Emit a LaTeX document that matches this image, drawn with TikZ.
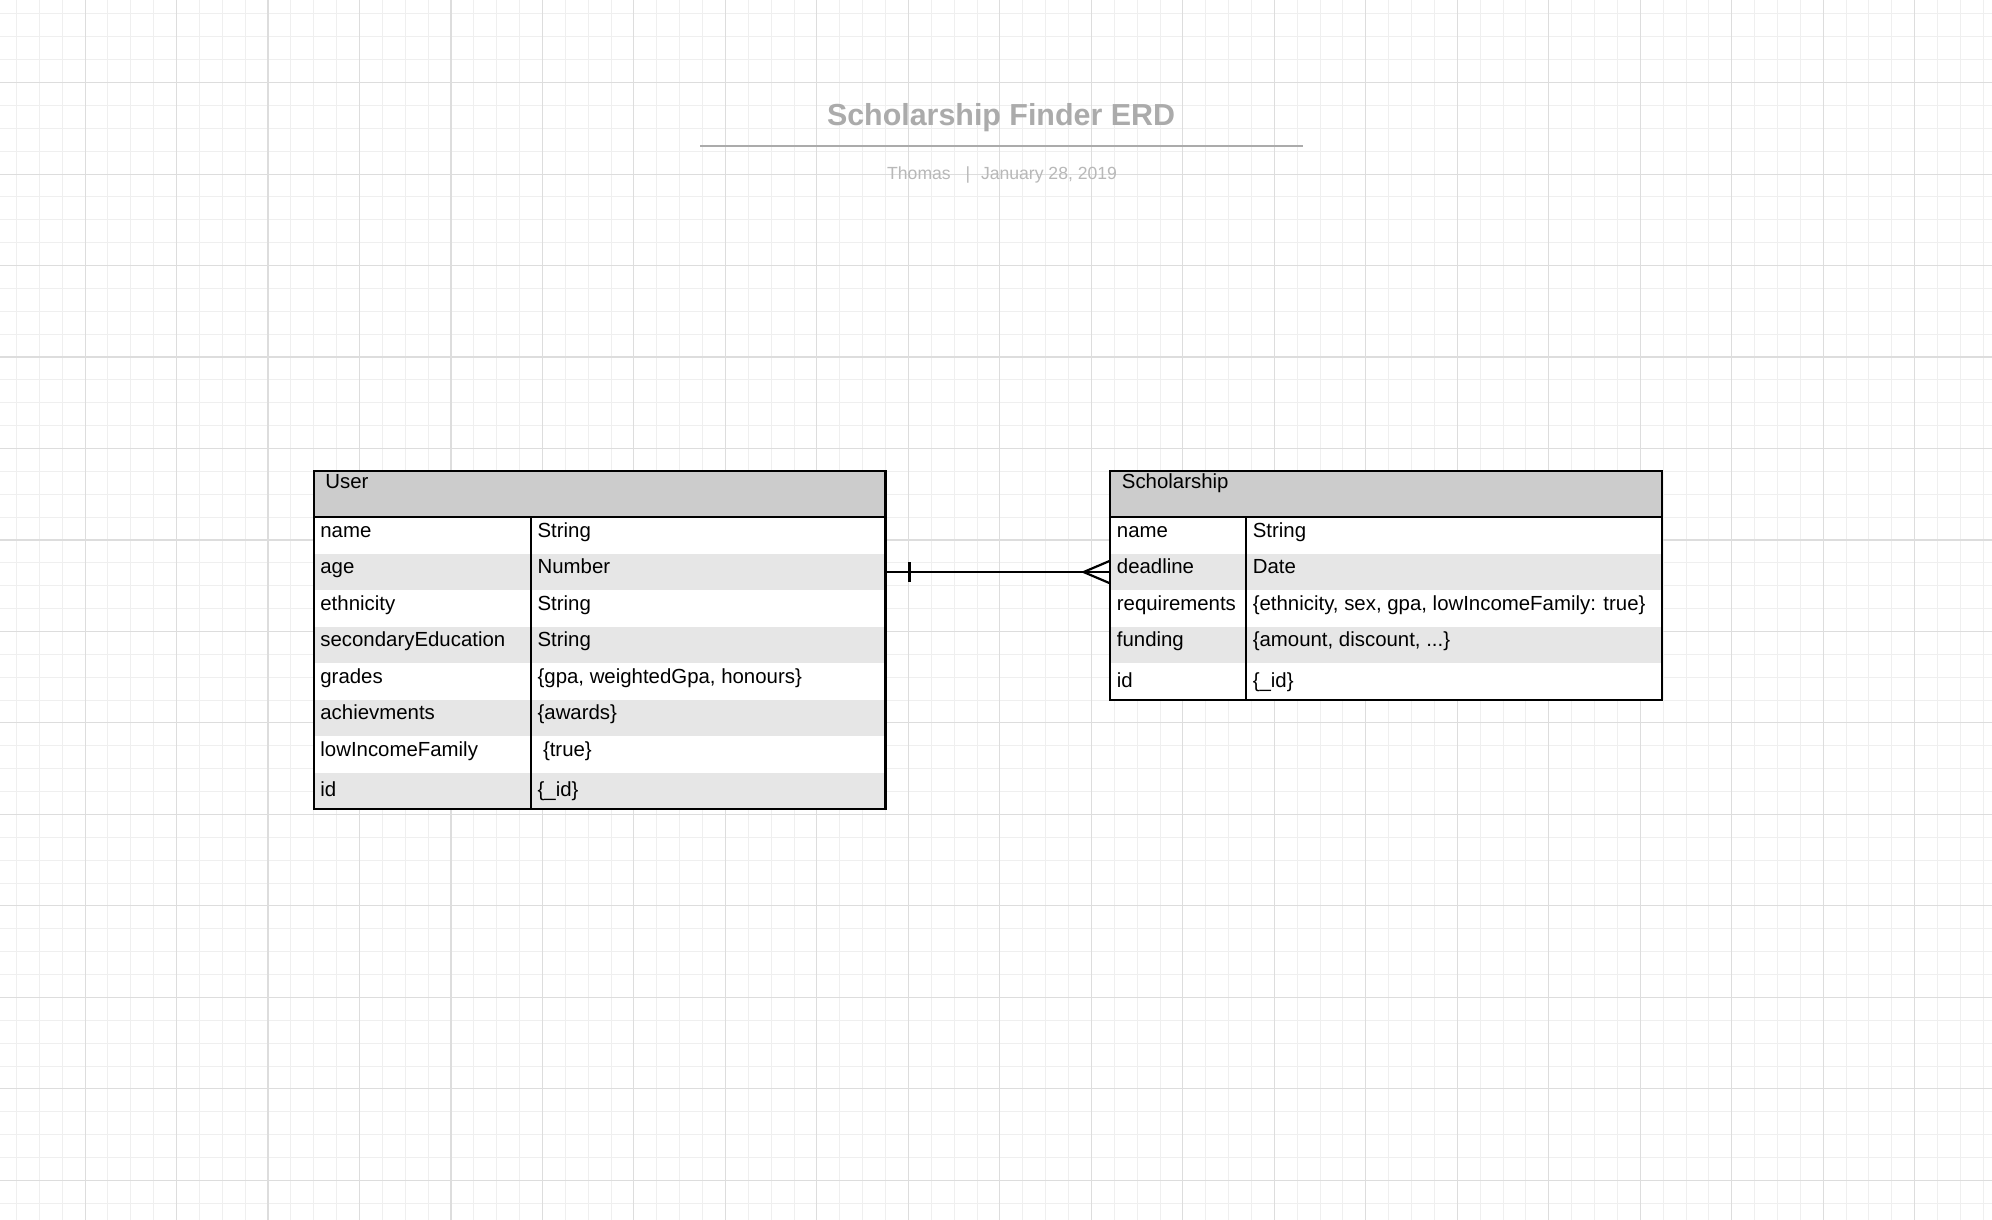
\documentclass[tikz,border=0pt]{standalone}
\usepackage{fontspec}
\setmainfont{Liberation Sans}
\usetikzlibrary{calc}
\usetikzlibrary{positioning}

\definecolor{gridminor}{HTML}{EFEFEF}
\definecolor{gridmajor}{HTML}{DDDDDD}
\definecolor{headfill}{HTML}{CCCCCC}
\definecolor{stripefill}{HTML}{E6E6E6}
\definecolor{titlegray}{HTML}{ABABAB}
\definecolor{subgray}{HTML}{B8B8B8}

\tikzset{
  gridthin/.style={draw=gridminor, line width=1pt},
  gridthick/.style={draw=gridmajor, line width=1.1pt},
  titletext/.style={text=titlegray, font=\fontsize{30.4pt}{36pt}\selectfont\bfseries, inner sep=0pt},
  subtext/.style={text=subgray, font=\fontsize{17.6pt}{21pt}\selectfont, inner sep=0pt},
  titlerule/.style={draw=titlegray, line width=2.4pt},
  tablehead/.style={rectangle, fill=headfill, minimum height=46pt, inner sep=0pt, outer sep=0pt},
  tablerow/.style={rectangle, fill=white, minimum height=36.5pt, inner sep=0pt, outer sep=0pt},
  stripe/.style={fill=stripefill},
  celltext/.style={anchor=base west, inner sep=0pt, font=\fontsize{20.4pt}{24pt}\selectfont},
  tableline/.style={draw=black, line width=2.2pt},
  relline/.style={draw=black, line width=2.2pt},
}

\begin{document}
\begin{tikzpicture}[x=1pt, y=-1pt]
  \useasboundingbox[fill=white] (0,0) rectangle (1992,1220);

  % Background grid
  \foreach \i in {0,...,86}
    \draw[gridthin] ({16.5+22.87*\i},0) -- ({16.5+22.87*\i},1220);
  \foreach \i in {0,...,52}
    \draw[gridthin] (0,{14+22.87*\i}) -- (1992,{14+22.87*\i});
  \foreach \i in {0,...,20}
    \draw[gridthick] ({85.1+91.47*\i},0) -- ({85.1+91.47*\i},1220);
  \foreach \i in {0,...,12}
    \draw[gridthick] (0,{82.6+91.47*\i}) -- (1992,{82.6+91.47*\i});

  % Title block
  \node[titletext, anchor=base]      (title)  at (1001,126)   {Scholarship Finder ERD};
  \coordinate                        (rule-l) at (700,146);
  \coordinate                        (rule-r) at (1303,146);
  \draw[titlerule] (rule-l) -- (rule-r);
  \node[subtext, anchor=base west]   (author) at (887,179)    {Thomas};
  \node[subtext, anchor=base]        (bar)    at (968,179)    {|};
  \node[subtext, anchor=base west]   (date)   at (980.8,179)  {January 28, 2019};

  % User table
  \node[tablehead, minimum width=571.7pt, anchor=north west] (user) at (313.8,471.3) {};
  \node[tablerow, minimum width=571.7pt, below=0pt of user]           (u-name)   {};
  \node[tablerow, stripe, minimum width=571.7pt, below=0pt of u-name] (u-age)    {};
  \node[tablerow, minimum width=571.7pt, below=0pt of u-age]          (u-eth)    {};
  \node[tablerow, stripe, minimum width=571.7pt, below=0pt of u-eth]  (u-sec)    {};
  \node[tablerow, minimum width=571.7pt, below=0pt of u-sec]          (u-grades) {};
  \node[tablerow, stripe, minimum width=571.7pt, below=0pt of u-grades] (u-ach)  {};
  \node[tablerow, minimum width=571.7pt, below=0pt of u-ach]          (u-low)    {};
  \node[tablerow, stripe, minimum width=571.7pt, below=0pt of u-low]  (u-id)     {};

  \node[celltext] (user-title)  at ($(user.north west)+(11.4,17.3)$)   {User};
  \node[celltext] (u-name-key)  at ($(u-name.north west)+(6.4,20)$)    {name};
  \node[celltext] (u-name-val)  at ($(u-name.north west)+(223.6,20)$)  {String};
  \node[celltext] (u-age-key)   at ($(u-age.north west)+(6.4,20)$)     {age};
  \node[celltext] (u-age-val)   at ($(u-age.north west)+(223.6,20)$)   {Number};
  \node[celltext] (u-eth-key)   at ($(u-eth.north west)+(6.4,20)$)     {ethnicity};
  \node[celltext] (u-eth-val)   at ($(u-eth.north west)+(223.6,20)$)   {String};
  \node[celltext] (u-sec-key)   at ($(u-sec.north west)+(6.4,20)$)     {secondaryEducation};
  \node[celltext] (u-sec-val)   at ($(u-sec.north west)+(223.6,20)$)   {String};
  \node[celltext] (u-grades-key) at ($(u-grades.north west)+(6.4,20)$) {grades};
  \node[celltext] (u-grades-val) at ($(u-grades.north west)+(223.6,20)$) {\{gpa, weightedGpa, honours\}};
  \node[celltext] (u-ach-key)   at ($(u-ach.north west)+(6.4,20)$)     {achievments};
  \node[celltext] (u-ach-val)   at ($(u-ach.north west)+(223.6,20)$)   {\{awards\}};
  \node[celltext] (u-low-key)   at ($(u-low.north west)+(6.4,20)$)     {lowIncomeFamily};
  \node[celltext] (u-low-val)   at ($(u-low.north west)+(229,20)$)     {\{true\}};
  \node[celltext] (u-id-key)    at ($(u-id.north west)+(6.4,23.5)$)    {id};
  \node[celltext] (u-id-val)    at ($(u-id.north west)+(223.6,23.5)$)  {\{\_id\}};

  \coordinate (u-div-top) at ($(u-name.north west)+(217.2,0)$);
  \coordinate (u-div-bot) at ($(u-id.south west)+(217.2,0)$);
  \draw[tableline] (user.north west) rectangle (u-id.south east);
  \draw[tableline] (user.south west) -- (user.south east);
  \draw[tableline] (u-div-top) -- (u-div-bot);

  % Scholarship table
  \node[tablehead, minimum width=551.4pt, anchor=north west] (schol) at (1110.3,471.3) {};
  \node[tablerow, minimum width=551.4pt, below=0pt of schol]          (s-name)     {};
  \node[tablerow, stripe, minimum width=551.4pt, below=0pt of s-name] (s-deadline) {};
  \node[tablerow, minimum width=551.4pt, below=0pt of s-deadline]     (s-req)      {};
  \node[tablerow, stripe, minimum width=551.4pt, below=0pt of s-req]  (s-fund)     {};
  \node[tablerow, minimum width=551.4pt, below=0pt of s-fund]         (s-id)       {};

  \node[celltext] (schol-title)    at ($(schol.north west)+(11.4,17.3)$)      {Scholarship};
  \node[celltext] (s-name-key)     at ($(s-name.north west)+(6.4,20)$)       {name};
  \node[celltext] (s-name-val)     at ($(s-name.north west)+(142.3,20)$)     {String};
  \node[celltext] (s-deadline-key) at ($(s-deadline.north west)+(6.4,20)$)   {deadline};
  \node[celltext] (s-deadline-val) at ($(s-deadline.north west)+(142.3,20)$) {Date};
  \node[celltext] (s-req-key)      at ($(s-req.north west)+(6.4,20)$)        {requirements};
  \node[celltext] (s-req-val)      at ($(s-req.north west)+(142.3,20)$)      {\{ethnicity, sex, gpa, lowIncomeFamily: true\}};
  \node[celltext] (s-fund-key)     at ($(s-fund.north west)+(6.4,20)$)       {funding};
  \node[celltext] (s-fund-val)     at ($(s-fund.north west)+(142.3,20)$)     {\{amount, discount, ...\}};
  \node[celltext] (s-id-key)       at ($(s-id.north west)+(6.4,24)$)         {id};
  \node[celltext] (s-id-val)       at ($(s-id.north west)+(142.3,24)$)       {\{\_id\}};

  \coordinate (s-div-top) at ($(s-name.north west)+(136,0)$);
  \coordinate (s-div-bot) at ($(s-id.south west)+(136,0)$);
  \draw[tableline] (schol.north west) rectangle (s-id.south east);
  \draw[tableline] (schol.south west) -- (schol.south east);
  \draw[tableline] (s-div-top) -- (s-div-bot);

  % Relationship: one user -- many scholarships
  \draw[relline] (u-age.east) -- (s-deadline.west);
  \draw[relline] ($(u-age.east)+(24,-10)$) -- ($(u-age.east)+(24,10)$);
  \coordinate (crow) at ($(s-deadline.west)+(-26.7,0)$);
  \draw[relline] ($(s-deadline.west)+(0,-11.4)$) -- (crow) -- ($(s-deadline.west)+(0,11.4)$);
\end{tikzpicture}
\end{document}
